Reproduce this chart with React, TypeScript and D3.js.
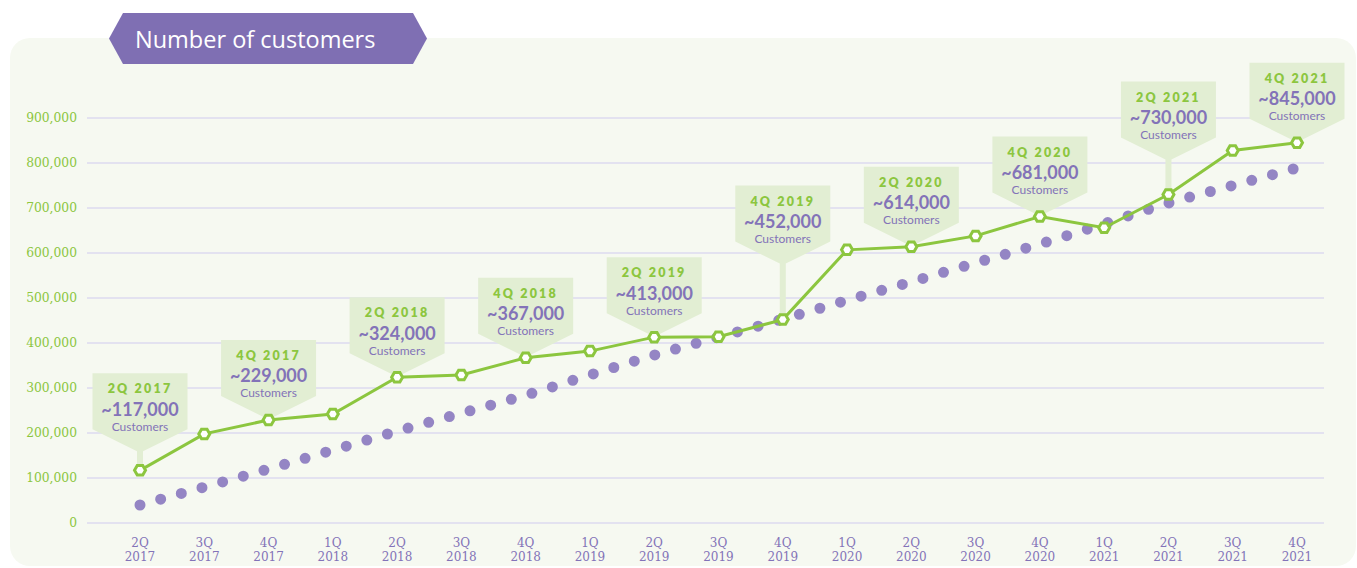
import React from 'react';
import * as d3 from 'd3';

// quarters on the x axis
const quarters = ['2Q 2017', '3Q 2017', '4Q 2017', '1Q 2018', '2Q 2018', '3Q 2018', '4Q 2018',
  '1Q 2019', '2Q 2019', '3Q 2019', '4Q 2019', '1Q 2020', '2Q 2020', '3Q 2020', '4Q 2020',
  '1Q 2021', '2Q 2021', '3Q 2021', '4Q 2021'];

// customers at each quarter end
const customers = [117000, 198000, 229000, 242000, 324000, 329000, 367000, 382000, 413000, 414000,
  452000, 607000, 614000, 638000, 681000, 656000, 730000, 828000, 845000];

// trend shown as the purple dotted line
const trend = [40000, 80000, 120000, 162000, 204000, 244000, 284000, 329000, 373000, 413000,
  453000, 495000, 536000, 578000, 620000, 665000, 711000, 750000, 789000];

// quarters that get a callout
const calloutQuarters = ['2Q 2017', '4Q 2017', '2Q 2018', '4Q 2018', '2Q 2019', '4Q 2019',
  '2Q 2020', '4Q 2020', '2Q 2021', '4Q 2021'];
// extra stem under a callout, px
const calloutStem = [17, 0, 0, 0, 0, 54, 0, 0, 33, 0];

const yTicks = [0, 100000, 200000, 300000, 400000, 500000, 600000, 700000, 800000, 900000];

const W = 1357, H = 568;
const green = '#8cc63f';
const purple = '#8373b8';
const dotColor = '#9485c4';
const boxFill = '#e2eed3';

export default function App() {
  const x = d3.scalePoint<string>().domain(quarters).range([140, 1297]);
  const y = d3.scaleLinear().domain([0, 900000]).range([523, 118]);
  const fmt = d3.format(',');

  const line = d3.line<number>()
    .x((d, i) => x(quarters[i])!)
    .y(d => y(d));

  const hex = (cx: number, cy: number, r: number) =>
    d3.range(6).map(k => {
      const a = Math.PI / 3 * k;
      return [cx + r * Math.cos(a), cy + r * Math.sin(a)].join(',');
    }).join(' ');

  return (
    <div style={{ position: 'absolute', left: 0, top: 0 }}>
      <svg width={W} height={H} style={{ display: 'block', background: '#fff' }}>
        <rect x={10} y={38} width={1346} height={528} rx={20} fill="#f6f9f1" />

        {/* title banner */}
        <polygon points="109,38.5 123,13 413,13 427,38.5 413,64 123,64" fill="#7f6fb3" />
        <text x={135} y={48} fill="#fff" fontFamily="Open Sans, sans-serif" fontSize={23.5}>Number of customers</text>

        {/* grid + y axis */}
        {yTicks.map(t => (
          <g key={t}>
            <line x1={87} x2={1324} y1={y(t)} y2={y(t)} stroke="#dddaef" strokeWidth={1.3} />
            <text x={77} y={y(t)} dy="0.35em" textAnchor="end" fill={green}
              fontFamily="DejaVu Serif, serif" fontSize={12.3}>{fmt(t)}</text>
          </g>
        ))}

        {/* x axis labels */}
        {quarters.map(q => {
          const [qq, yr] = q.split(' ');
          return (
            <text key={q} x={x(q)} textAnchor="middle" fill={purple}
              fontFamily="DejaVu Serif, serif" fontSize={12}>
              <tspan x={x(q)} y={547}>{qq}</tspan>
              <tspan x={x(q)} y={561}>{yr}</tspan>
            </text>
          );
        })}

        {/* trend dots */}
        <path d={line.curve(d3.curveMonotoneX)(trend)!} fill="none" stroke={dotColor}
          strokeWidth={11} strokeLinecap="round" strokeDasharray="0 21.45" />

        {/* callouts */}
        {calloutQuarters.map((q, i) => {
          const idx = quarters.indexOf(q);
          const cx = x(q)!;
          const my = y(customers[idx]);
          const tip = my - calloutStem[i] - 2;
          const top = tip - 78;
          const hw = 47.5;
          const pts = [[cx - hw, top], [cx + hw, top], [cx + hw, top + 56], [cx + 3, tip],
            [cx + 3, my], [cx - 3, my], [cx - 3, tip], [cx - hw, top + 56]];
          return (
            <g key={q}>
              <polygon points={pts.map(p => p.join(',')).join(' ')} fill={boxFill} />
              <text x={cx} y={top + 20} textAnchor="middle" fill={green} fontWeight={800}
                fontFamily="Lato, sans-serif" fontSize={12.5} letterSpacing={2.2}>{q}</text>
              <text x={cx} y={top + 42.5} textAnchor="middle" fill={purple} fontWeight={700}
                fontFamily="Lato, sans-serif" fontSize={18}>~{fmt(customers[idx])}</text>
              <text x={cx} y={top + 57.5} textAnchor="middle" fill={purple}
                fontFamily="Lato, sans-serif" fontSize={12}>Customers</text>
            </g>
          );
        })}

        {/* customers line */}
        <path d={line.curve(d3.curveLinear)(customers)!} fill="none" stroke={green} strokeWidth={3} />
        {customers.map((v, i) => (
          <polygon key={i} points={hex(x(quarters[i])!, y(v), 5.5)} fill="#fff" stroke={green} strokeWidth={3} />
        ))}
      </svg>
    </div>
  );
}
